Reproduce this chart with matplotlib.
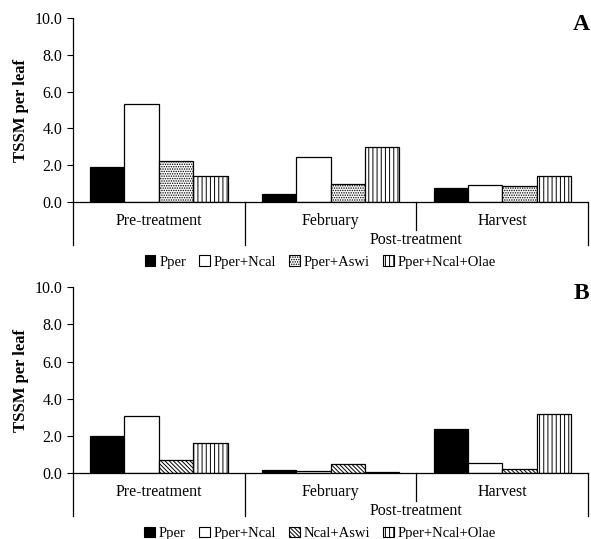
import matplotlib
matplotlib.use('Agg')
import matplotlib.pyplot as plt
import numpy as np
from matplotlib.patches import Patch

plt.rcParams['font.family'] = 'Liberation Serif'
plt.rcParams['hatch.linewidth'] = 0.7

# data
periods = ['Pre-treatment', 'February', 'Harvest']
labels_a = ['Pper', 'Pper+Ncal', 'Pper+Aswi', 'Pper+Ncal+Olae']
labels_b = ['Pper', 'Pper+Ncal', 'Ncal+Aswi', 'Pper+Ncal+Olae']
values_a = [
    [1.9, 0.45, 0.76],   # Pper
    [5.3, 2.45, 0.92],   # Pper+Ncal
    [2.23, 0.98, 0.87],  # Pper+Aswi
    [1.4, 3.0, 1.4],     # Pper+Ncal+Olae
]
values_b = [
    [2.0, 0.15, 2.38],   # Pper
    [3.07, 0.1, 0.54],   # Pper+Ncal
    [0.68, 0.47, 0.2],   # Ncal+Aswi
    [1.63, 0.05, 3.16],  # Pper+Ncal+Olae
]
yticks = [0, 2, 4, 6, 8, 10]


def draw_panel(ax, values, labels, hatches, letter, fig):
    x = np.arange(len(periods))
    width = 0.2
    offsets = [-0.3, -0.1, 0.1, 0.3]
    handles = []
    for i, vals in enumerate(values):
        fc = 'black' if i == 0 else 'white'
        ax.bar(x + offsets[i], vals, width, color=fc, edgecolor='black',
               linewidth=0.9, hatch=hatches[i])
        handles.append(Patch(facecolor=fc, edgecolor='black', linewidth=0.8,
                             hatch=hatches[i], label=labels[i]))
    ax.set_xlim(-0.5, 2.5)
    ax.set_ylim(0, 10)
    ax.set_yticks(yticks)
    ax.set_yticklabels(['%.1f' % t for t in yticks], fontsize=11.5)
    ax.set_xticks([])
    ax.tick_params(axis='y', direction='out', length=4, width=0.8)
    for s in ['top', 'right']:
        ax.spines[s].set_visible(False)
    ax.spines['left'].set_linewidth(0.9)
    ax.spines['bottom'].set_linewidth(0.9)
    ax.set_ylabel('TSSM per leaf', fontsize=12, fontweight='bold', labelpad=4)

    tr = ax.get_xaxis_transform()
    for xs, ylow in [(-0.5, -0.234), (0.5, -0.234), (1.5, -0.15), (2.5, -0.234)]:
        ax.plot([xs, xs], [0, ylow], color='black', lw=0.9, transform=tr,
                clip_on=False)
    for xi, p in zip(x, periods):
        ax.text(xi, -0.103, p, transform=tr, ha='center', va='center',
                fontsize=11.5)
    ax.text(1.5, -0.205, 'Post-treatment', transform=tr, ha='center',
            va='center', fontsize=11.5)
    ax.legend(handles=handles, loc='center', bbox_to_anchor=(0.48, -0.325),
              ncol=4, frameon=False, fontsize=10.5, handlelength=0.75,
              handleheight=0.75, handletextpad=0.25, columnspacing=0.9,
              borderaxespad=0)
    bb = ax.get_position()
    fig.text(0.983, bb.y1 - 0.012, letter, ha='center', va='center',
             fontsize=17, fontweight='bold')


fig = plt.figure(figsize=(5.91, 5.39), dpi=100)
ax_a = fig.add_axes([0.1235, 0.6252, 0.8715, 0.3414])
ax_b = fig.add_axes([0.1235, 0.1224, 0.8715, 0.3445])

draw_panel(ax_a, values_a, labels_a, [None, None, '.......', '||||'], 'A', fig)
draw_panel(ax_b, values_b, labels_b, [None, None, '\\' * 8, '||||'], 'B', fig)

fig.savefig('out.png', dpi=100)
